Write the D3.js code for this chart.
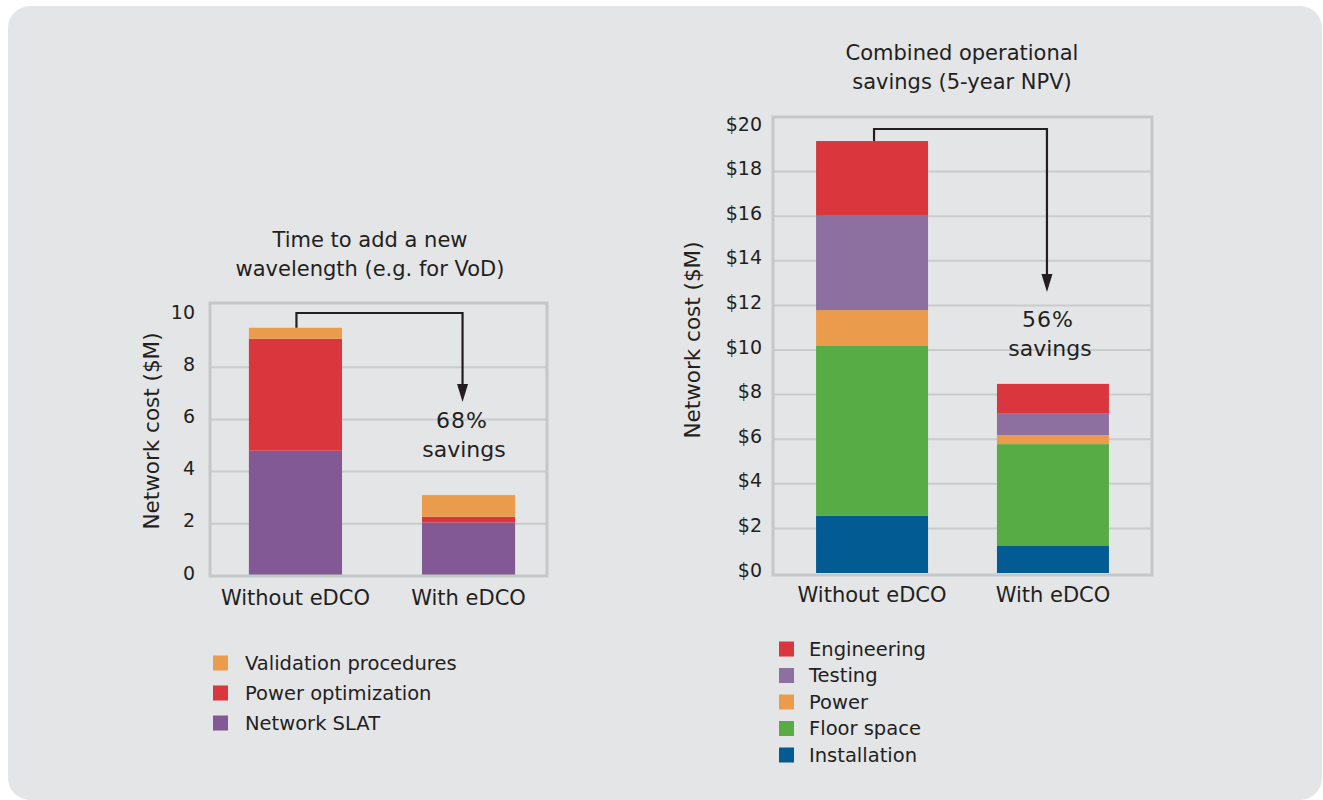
<!DOCTYPE html>
<html>
<head>
<meta charset="utf-8">
<script src="https://cdnjs.cloudflare.com/ajax/libs/d3/7.8.5/d3.min.js"></script>
<style>
    body { margin: 0; background: #ffffff; }
    text { font-family: "DejaVu Sans", sans-serif; fill: #231f20; }
</style>
</head>
<body>
<div id="chart"></div>
<script>
// ---- data ----
var categories = ["Without eDCO", "With eDCO"];

// left chart: time to add a new wavelength
var leftKeys = ["Network SLAT", "Power optimization", "Validation procedures"];
var networkSLAT = [4.8, 2.05];
var powerOptimization = [4.29, 0.22];
var validationProcedures = [0.42, 0.83];
var leftTicks = [0, 2, 4, 6, 8, 10];
var leftSavings = "68%";

// right chart: combined operational savings
var rightKeys = ["Installation", "Floor space", "Power", "Testing", "Engineering"];
var installation = [2.56, 1.21];
var floorSpace = [7.62, 4.57];
var power = [1.61, 0.41];
var testing = [4.23, 0.98];
var engineering = [3.35, 1.31];
var rightTicks = [0, 2, 4, 6, 8, 10, 12, 14, 16, 18, 20];
var rightSavings = "56%";

var colors = {
    "Network SLAT": "#825994",
    "Power optimization": "#da363d",
    "Validation procedures": "#eb9b4c",
    "Installation": "#035b94",
    "Floor space": "#57ac46",
    "Power": "#eb9b4c",
    "Testing": "#8d6fa0",
    "Engineering": "#da363d"
};

var svg = d3.select("#chart").append("svg")
    .attr("width", 1323)
    .attr("height", 800);

// grey rounded panel
svg.append("rect")
    .attr("x", 8).attr("y", 6)
    .attr("width", 1314).attr("height", 794)
    .attr("rx", 22)
    .attr("fill", "#e4e5e7");

function buildRows(keys, arrays) {
    return categories.map(function (c, i) {
        var row = { cat: c };
        keys.forEach(function (k, j) { row[k] = arrays[j][i]; });
        return row;
    });
}

function drawChart(cfg) {
    var g = svg.append("g");

    var x = d3.scaleBand()
        .domain(categories)
        .range(cfg.xRange)
        .paddingInner(cfg.padInner)
        .paddingOuter(cfg.padOuter);

    var y = d3.scaleLinear()
        .domain([0, cfg.yMax])
        .range(cfg.yRange);

    // gridlines (skip top and zero)
    g.selectAll(".grid")
        .data(cfg.ticks.filter(function (t) { return t > 0 && t < cfg.yMax; }))
        .enter().append("line")
        .attr("x1", cfg.frame.left).attr("x2", cfg.frame.right)
        .attr("y1", d => y(d)).attr("y2", d => y(d))
        .attr("stroke", "#c9cccd")
        .attr("stroke-width", 2);

    // stacked bars
    var series = d3.stack().keys(cfg.keys)(buildRows(cfg.keys, cfg.arrays));
    g.selectAll(".layer")
        .data(series)
        .enter().append("g")
        .attr("fill", d => colors[d.key])
        .selectAll("rect")
        .data(d => d)
        .enter().append("rect")
        .attr("x", d => x(d.data.cat))
        .attr("width", x.bandwidth())
        .attr("y", d => y(d[1]))
        .attr("height", d => y(d[0]) - y(d[1]));

    // frame
    g.append("rect")
        .attr("x", cfg.frame.left).attr("y", cfg.frame.top)
        .attr("width", cfg.frame.right - cfg.frame.left)
        .attr("height", cfg.frame.bottom - cfg.frame.top)
        .attr("fill", "none")
        .attr("stroke", "#c3c8c9")
        .attr("stroke-width", 3);

    // y axis labels
    var yAxis = d3.axisLeft(y).tickValues(cfg.ticks).tickSize(0).tickFormat(cfg.fmt);
    var ya = g.append("g")
        .attr("transform", `translate(${cfg.tickX}, 0)`)
        .call(yAxis);
    ya.select(".domain").remove();
    ya.selectAll("text")
        .attr("x", 0)
        .attr("dy", "0.32em")
        .attr("y", -3)
        .style("font-size", "19px")
        .style("font-family", "DejaVu Sans")
        .attr("fill", "#231f20");

    // x axis labels
    var xAxis = d3.axisBottom(x).tickSize(0);
    var xa = g.append("g")
        .attr("transform", `translate(0, ${cfg.xLabelY})`)
        .call(xAxis);
    xa.select(".domain").remove();
    xa.selectAll("text")
        .attr("y", 0)
        .attr("dy", "0.35em")
        .style("font-size", "21px")
        .style("font-family", "DejaVu Sans")
        .attr("fill", "#231f20");

    // y title
    g.append("text")
        .attr("transform", `translate(${cfg.yTitle[0]}, ${cfg.yTitle[1]}) rotate(-90)`)
        .attr("text-anchor", "middle")
        .attr("dy", "0.35em")
        .style("font-size", "21.5px")
        .text("Network cost ($M)");

    // chart title
    cfg.title.forEach(function (line, i) {
        g.append("text")
            .attr("x", cfg.titlePos[0])
            .attr("y", cfg.titlePos[1] + i * 29)
            .attr("text-anchor", "middle")
            .attr("dy", "0.35em")
            .style("font-size", "21px")
            .text(line);
    });

    // savings arrow
    var totals = series[series.length - 1];
    var x0 = x(categories[0]) + x.bandwidth() / 2 + cfg.arrowShift[0];
    var x1 = x(categories[1]) + x.bandwidth() / 2 + cfg.arrowShift[1];
    var yStart = y(totals[0][1]);
    g.append("path")
        .attr("d", `M${x0},${yStart} V${cfg.arrowTop} H${x1} V${cfg.arrowTip - 14}`)
        .attr("fill", "none")
        .attr("stroke", "#231f20")
        .attr("stroke-width", 2.2);
    g.append("path")
        .attr("d", `M${x1 - 5.5},${cfg.arrowTip - 18} L${x1 + 5.5},${cfg.arrowTip - 18} L${x1},${cfg.arrowTip} Z`)
        .attr("fill", "#231f20");

    g.append("text")
        .attr("x", cfg.savingsPos[0]).attr("y", cfg.savingsPos[1])
        .attr("text-anchor", "middle").attr("dy", "0.35em")
        .style("font-size", "22px")
        .style("letter-spacing", "1px")
        .text(cfg.savings);
    g.append("text")
        .attr("x", cfg.savingsPos[0] + 2).attr("y", cfg.savingsPos[1] + 29)
        .attr("text-anchor", "middle").attr("dy", "0.35em")
        .style("font-size", "22px")
        .text("savings");

    // legend
    var leg = g.selectAll(".leg")
        .data(cfg.legendOrder)
        .enter().append("g")
        .attr("transform", (d, i) => `translate(${cfg.legendPos[0]}, ${cfg.legendPos[1] + i * cfg.legendStep})`);
    leg.append("rect")
        .attr("x", 0).attr("y", -7.5)
        .attr("width", 15).attr("height", 15)
        .attr("fill", d => colors[d]);
    leg.append("text")
        .attr("x", cfg.legendTextDx)
        .attr("dy", "0.35em")
        .style("font-size", "19.5px")
        .text(d => d);
}

drawChart({
    keys: leftKeys,
    arrays: [networkSLAT, powerOptimization, validationProcedures],
    ticks: leftTicks,
    yMax: 10,
    yRange: [576, 315],
    xRange: [216, 548],
    padInner: 0.462,
    padOuter: 0.19,
    frame: { left: 210, right: 547, top: 303, bottom: 576 },
    fmt: d3.format("d"),
    tickX: 195,
    xLabelY: 598,
    yTitle: [151, 431],
    title: ["Time to add a new", "wavelength (e.g. for VoD)"],
    titlePos: [370, 240],
    arrowShift: [1, -6],
    arrowTop: 313,
    arrowTip: 402,
    savings: leftSavings,
    savingsPos: [462, 420],
    legendOrder: ["Validation procedures", "Power optimization", "Network SLAT"],
    legendPos: [213, 663],
    legendStep: 30,
    legendTextDx: 32
});

drawChart({
    keys: rightKeys,
    arrays: [installation, floorSpace, power, testing, engineering],
    ticks: rightTicks,
    yMax: 20,
    yRange: [573, 127],
    xRange: [773, 1152],
    padInner: 0.381,
    padOuter: 0.238,
    frame: { left: 773, right: 1152, top: 117, bottom: 575 },
    fmt: d => "$" + d,
    tickX: 762,
    xLabelY: 595,
    yTitle: [692, 340],
    title: ["Combined operational", "savings (5-year NPV)"],
    titlePos: [962, 53],
    arrowShift: [2, -6],
    arrowTop: 129,
    arrowTip: 292,
    savings: rightSavings,
    savingsPos: [1048, 319],
    legendOrder: ["Engineering", "Testing", "Power", "Floor space", "Installation"],
    legendPos: [779, 649],
    legendStep: 26.5,
    legendTextDx: 30
});
</script>
</body>
</html>
